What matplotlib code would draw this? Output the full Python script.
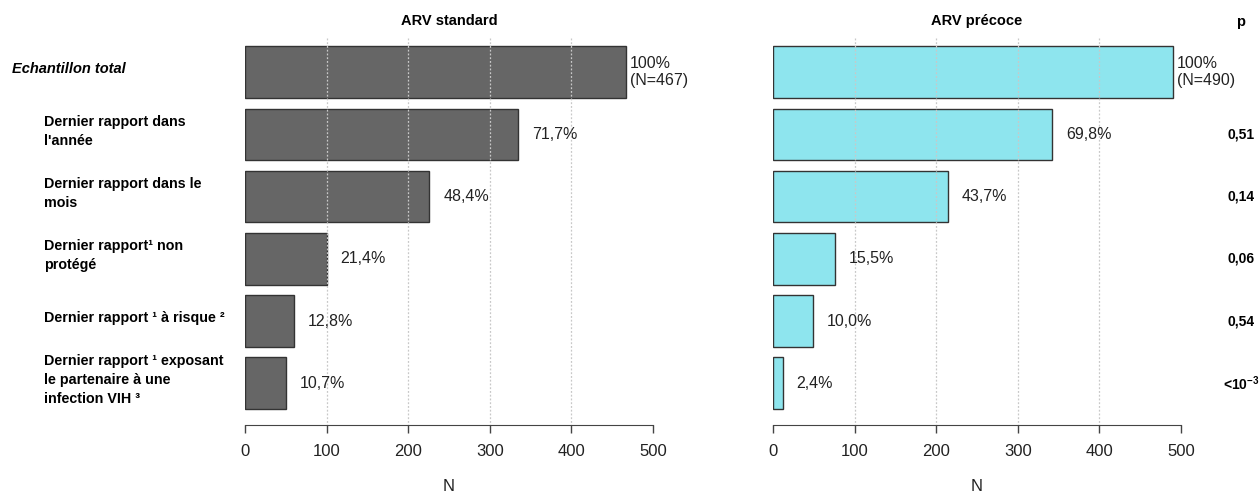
import matplotlib.pyplot as plt
from matplotlib.transforms import blended_transform_factory

plt.rcParams['font.family'] = ['Liberation Sans', 'DejaVu Sans']
plt.rcParams['mathtext.fontset'] = 'custom'
plt.rcParams['mathtext.rm'] = 'Liberation Sans'
plt.rcParams['mathtext.bf'] = 'Liberation Sans:bold'

# data
categories = [
    'Echantillon total',
    "Dernier rapport dans\nl'année",
    'Dernier rapport dans le\nmois',
    'Dernier rapport¹ non\nprotégé',
    'Dernier rapport ¹ à risque ²',
    'Dernier rapport ¹ exposant\nle partenaire à une\ninfection VIH ³',
]
n_standard = [467, 335, 226, 100, 60, 50]
n_precoce = [490, 342, 214, 76, 49, 12]
pct_standard = ['100%\n(N=467)', '71,7%', '48,4%', '21,4%', '12,8%', '10,7%']
pct_precoce = ['100%\n(N=490)', '69,8%', '43,7%', '15,5%', '10,0%', '2,4%']
p_values = ['', '0,51', '0,14', '0,06', '0,54', r'<10$^{\mathbf{-3}}$']
xticks = [0, 100, 200, 300, 400, 500]

fig = plt.figure(figsize=(12.6, 4.95), dpi=100)
ax1 = fig.add_axes([245 / 1260, 1 - 425 / 495, 408 / 1260, 387 / 495])
ax2 = fig.add_axes([773 / 1260, 1 - 425 / 495, 408 / 1260, 387 / 495])

rows = list(range(len(categories)))

for ax, vals, labels, color, title in [
    (ax1, n_standard, pct_standard, '#666666', 'ARV standard'),
    (ax2, n_precoce, pct_precoce, '#8EE5EE', 'ARV précoce'),
]:
    ax.barh(rows, vals, height=0.83, color=color, edgecolor='#333333',
            linewidth=1.0, zorder=2)
    ax.vlines([100, 200, 300, 400], -0.55, 5.67, colors='#c8c8c8',
              linestyles=(0, (1.5, 1.5)), linewidth=0.9, zorder=3)
    for r, v, lab in zip(rows, vals, labels):
        ax.annotate(lab, xy=(v, r), xytext=(3 if r == 0 else 10, 0),
                    textcoords='offset points', ha='left', va='center',
                    fontsize=11.5, color='#222222', linespacing=1.15,
                    annotation_clip=False)
    ax.set_xlim(0, 500)
    ax.set_ylim(5.67, -0.55)
    for s in ['top', 'right', 'left']:
        ax.spines[s].set_visible(False)
    ax.spines['bottom'].set_bounds(0, 500)
    ax.spines['bottom'].set_color('#444444')
    ax.set_yticks([])
    ax.set_xticks(xticks)
    ax.tick_params(axis='x', length=6, width=1, color='#444444',
                   labelsize=12, pad=8, labelcolor='#222222')
    ax.set_xlabel('N', fontsize=12, labelpad=14, color='#222222')
    ax.set_title(title, fontsize=10.5, fontweight='bold', pad=9)

# category labels on the left
trans = blended_transform_factory(fig.transFigure, ax1.transData)
for r, cat in zip(rows, categories):
    if r == 0:
        ax1.text(12 / 1260, r - 0.05, cat, transform=trans, ha='left',
                 va='center', fontsize=10.5, fontweight='bold', style='italic')
    else:
        ax1.text(44 / 1260, r - 0.05, cat, transform=trans, ha='left',
                 va='center', fontsize=10.3, fontweight='bold',
                 linespacing=1.45)

# p-values on the right
trans2 = blended_transform_factory(fig.transFigure, ax2.transData)
for r, p in zip(rows, p_values):
    ax2.text(1241 / 1260, r, p, transform=trans2, ha='center', va='center',
             fontsize=10, fontweight='bold')
fig.text(1241 / 1260, 1 - 22 / 495, 'p', ha='center', va='center',
         fontsize=10.5, fontweight='bold')

fig.savefig('out.png', dpi=100)
